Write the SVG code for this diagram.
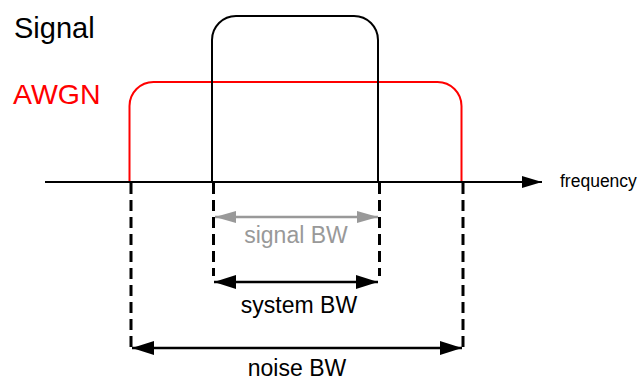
<svg xmlns="http://www.w3.org/2000/svg" width="638" height="380" viewBox="0 0 638 380">
<style>
text{font-family:"Liberation Sans",Arial,sans-serif}
.dash{stroke:#000;stroke-width:3;stroke-dasharray:11 6;fill:none}
.curve{fill:none;stroke-width:2}
</style>
<defs>
<marker id="ah" markerUnits="userSpaceOnUse" markerWidth="22" markerHeight="14" refX="22" refY="7" orient="auto-start-reverse"><path d="M0 0 L22 7 L0 14 Z" fill="#000"/></marker>
<marker id="ag" markerUnits="userSpaceOnUse" markerWidth="21" markerHeight="12" refX="21" refY="6" orient="auto-start-reverse"><path d="M0 0 L21 6 L0 12 Z" fill="#999"/></marker>
<marker id="ax" markerUnits="userSpaceOnUse" markerWidth="20" markerHeight="12" refX="20" refY="6" orient="auto"><path d="M0 0 L20 6 L0 12 Z" fill="#000"/></marker>
</defs>
<g id="labels">
<text x="14" y="38" font-size="29" fill="#000">Signal</text>
<text x="13" y="104" font-size="28.5" fill="#ff0000">AWGN</text>
</g>
<g id="awgn"><path class="curve" stroke="#ff0000" d="M129.5 182 V106 A24 24 0 0 1 153.5 82 H437.5 A24 24 0 0 1 461.5 106 V182"/></g>
<g id="signal"><path class="curve" stroke="#000" d="M212 182 V40 A24 24 0 0 1 236 16 H354 A24 24 0 0 1 378 40 V182"/></g>
<g id="axis">
<line x1="45" y1="182" x2="542" y2="182" stroke="#000" stroke-width="2" marker-end="url(#ax)"/>
<text x="560" y="187" font-size="17.5" fill="#000">frequency</text>
</g>
<g id="connectors">
<line class="dash" x1="131" y1="183" x2="131" y2="351"/>
<line class="dash" x1="213.5" y1="183" x2="213.5" y2="276"/>
<line class="dash" x1="379.5" y1="183" x2="379.5" y2="276"/>
<line class="dash" x1="463" y1="183" x2="463" y2="351"/>
<line x1="215" y1="217" x2="378" y2="217" stroke="#999" stroke-width="2.5" marker-start="url(#ag)" marker-end="url(#ag)"/>
<line x1="214" y1="282" x2="378" y2="282" stroke="#000" stroke-width="2.5" marker-start="url(#ah)" marker-end="url(#ah)"/>
<line x1="132" y1="348" x2="462" y2="348" stroke="#000" stroke-width="2.5" marker-start="url(#ah)" marker-end="url(#ah)"/>
</g>
<g id="bw-labels" font-size="23" text-anchor="middle">
<text x="296" y="243" fill="#999">signal BW</text>
<text x="299" y="313" fill="#000">system BW</text>
<text x="297" y="376" fill="#000">noise BW</text>
</g>
</svg>
